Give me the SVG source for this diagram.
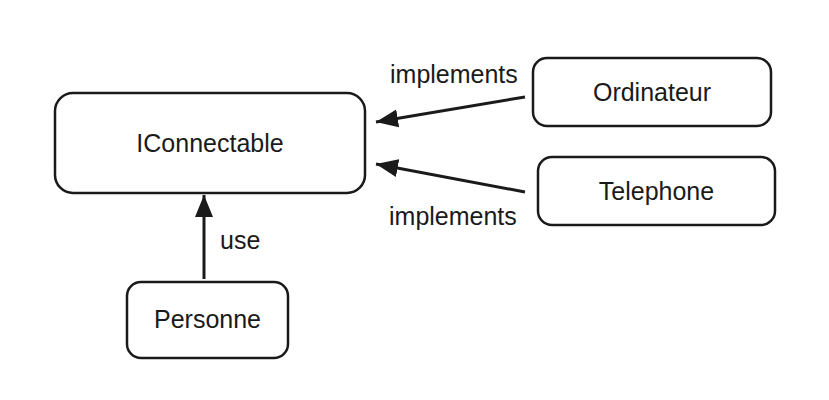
<svg xmlns="http://www.w3.org/2000/svg" width="829" height="400" viewBox="0 0 829 400">
<style>
.node{fill:#fff;stroke:#1a1a1a;stroke-width:2.5}
.lbl{font-family:"Liberation Sans",Arial,sans-serif;font-size:25px;fill:#1a1a1a}
.c{text-anchor:middle}
.edge{stroke:#1a1a1a;stroke-width:3;fill:none}
</style>
<defs>
<marker id="arr" markerUnits="userSpaceOnUse" markerWidth="24" markerHeight="20" viewBox="0 0 24 20" refX="22" refY="10" orient="auto">
<path d="M0,1 L22,10 L0,19 Z" fill="#1a1a1a"/>
</marker>
</defs>
<rect width="829" height="400" fill="#fff"/>
<g id="connectors">
<line class="edge" x1="525" y1="97" x2="376" y2="122" marker-end="url(#arr)"/>
<line class="edge" x1="525" y1="192" x2="376" y2="164" marker-end="url(#arr)"/>
<line class="edge" x1="204" y1="279" x2="204" y2="195" marker-end="url(#arr)"/>
<text class="lbl" x="390" y="83">implements</text>
<text class="lbl" x="389" y="225">implements</text>
<text class="lbl" x="220" y="249">use</text>
</g>
<g id="IConnectable">
<rect class="node" x="55" y="93" width="310" height="100" rx="18"/>
<text class="lbl c" x="210" y="152">IConnectable</text>
</g>
<g id="Ordinateur">
<rect class="node" x="533" y="58" width="238" height="68" rx="14"/>
<text class="lbl c" x="652" y="101">Ordinateur</text>
</g>
<g id="Telephone">
<rect class="node" x="538" y="157" width="237" height="68" rx="14"/>
<text class="lbl c" x="656.5" y="200">Telephone</text>
</g>
<g id="Personne">
<rect class="node" x="127" y="282" width="161" height="76" rx="14"/>
<text class="lbl c" x="207.5" y="328">Personne</text>
</g>
</svg>
